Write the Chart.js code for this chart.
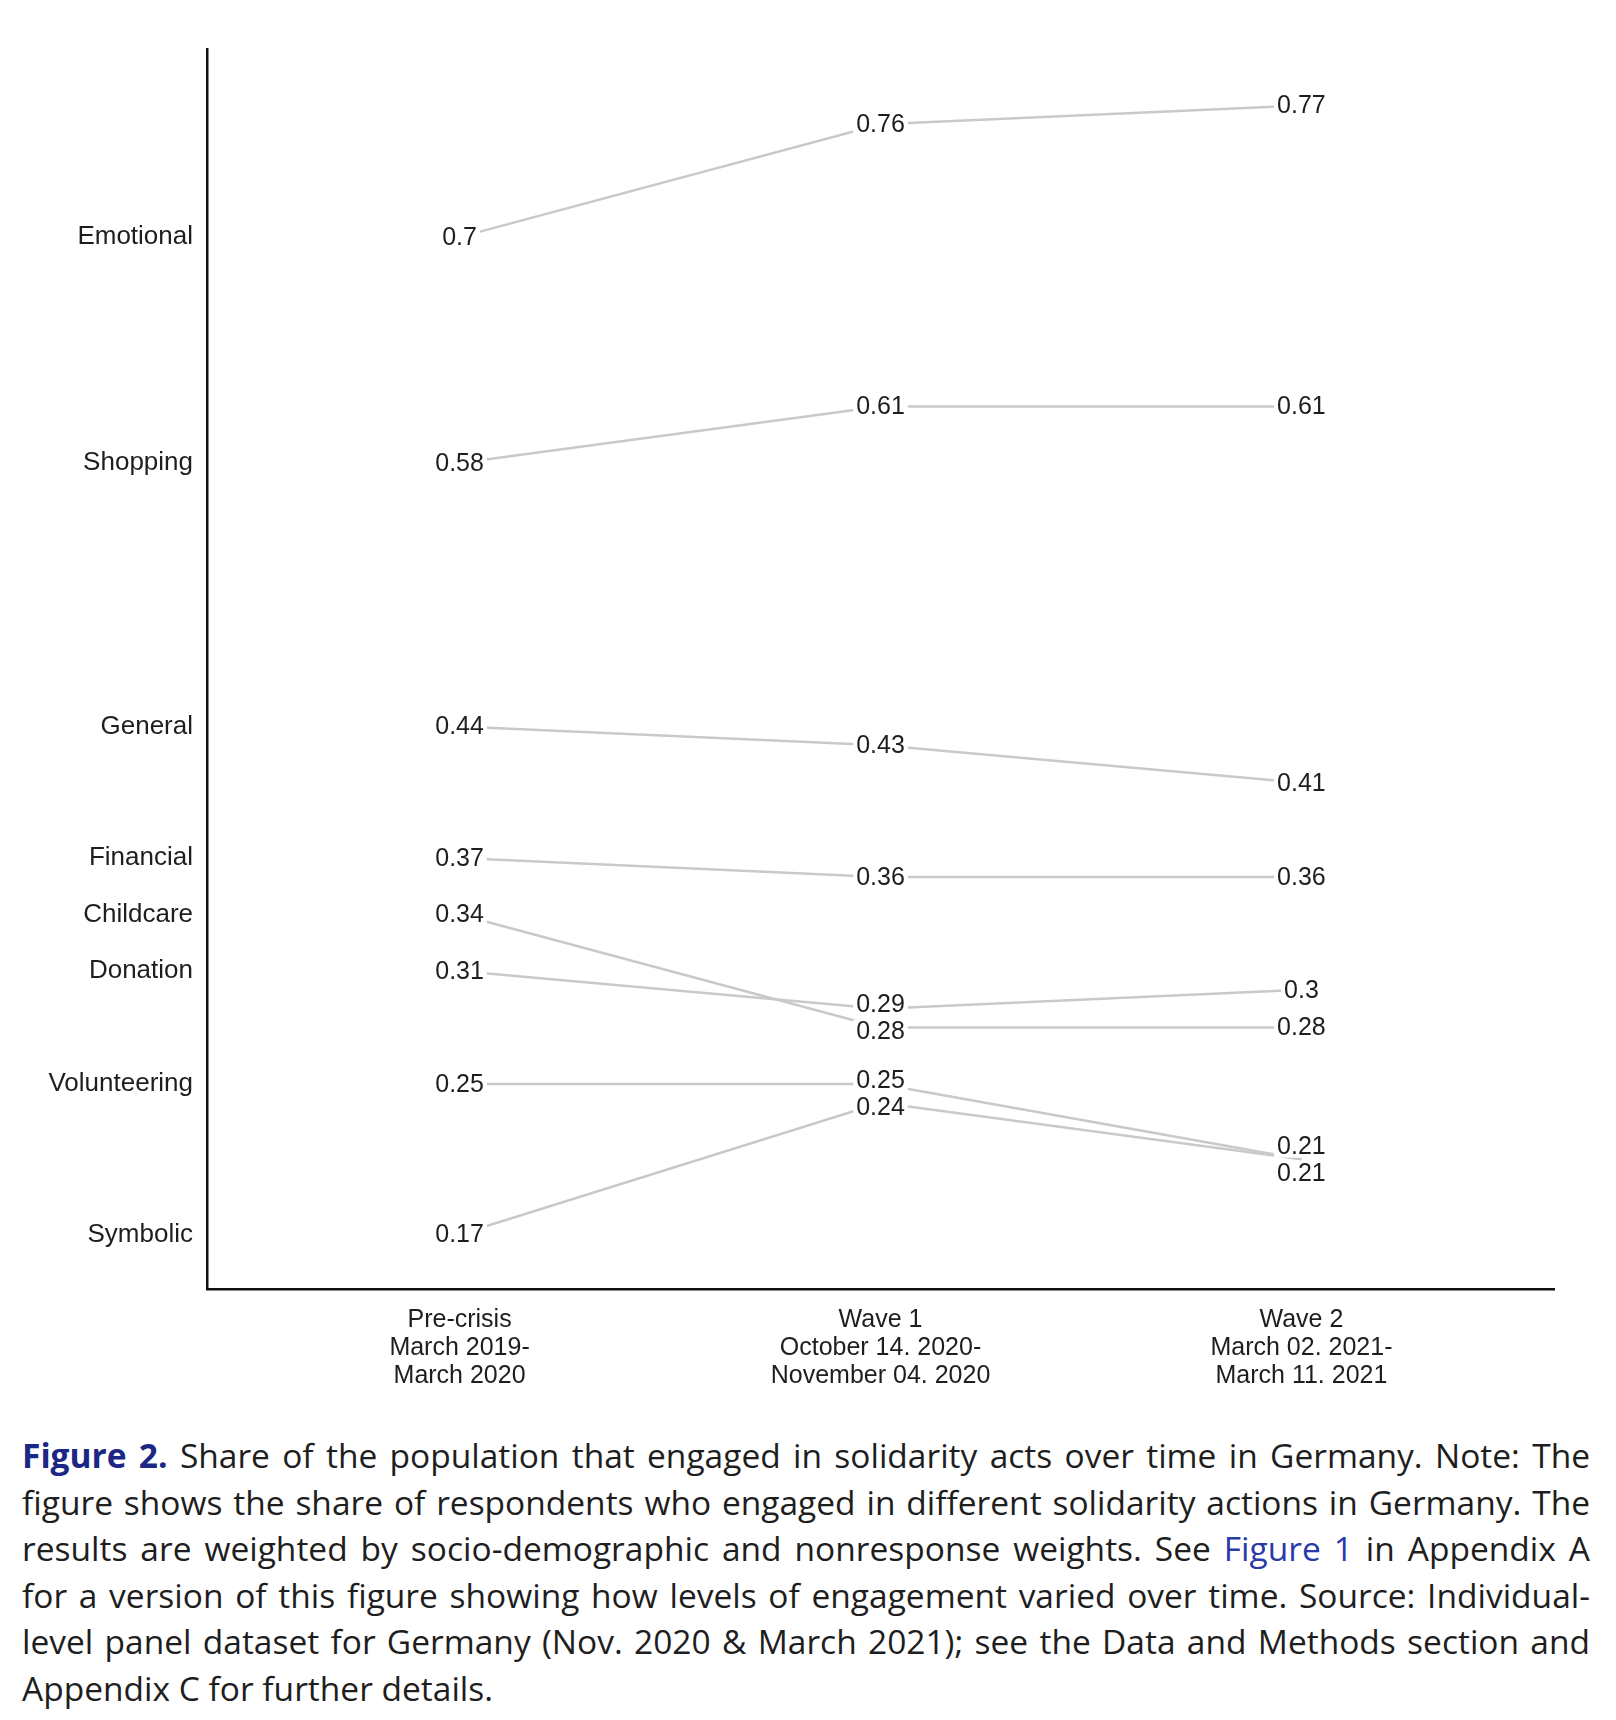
<!DOCTYPE html>
<html>
<head>
<meta charset="utf-8">
<script src="https://cdn.jsdelivr.net/npm/chart.js@4.4.1/dist/chart.umd.min.js"></script>
<style>
  html, body { margin: 0; padding: 0; background: #fff; }
  #wrap { position: relative; width: 1616px; height: 1720px; }
  #chart { position: absolute; left: 0; top: 0; }
  #caption {
    position: absolute; left: 22px; top: 1432px; width: 1568px;
    font-family: "Open Sans", sans-serif; font-size: 33.5px; line-height: 46.5px;
    color: #1e1e1e;
  }
  #caption div { text-align: justify; text-align-last: justify; white-space: nowrap; }
  #caption div.last { text-align-last: left; }
  #caption .fig { color: #1c2785; font-weight: bold; }
  #caption .link { color: #2a3aa8; }
</style>
</head>
<body>
<div id="wrap">
  <canvas id="chart" width="1616" height="1400"></canvas>
  <div id="caption">
    <div><span class="fig">Figure 2.</span> Share of the population that engaged in solidarity acts over time in Germany. Note: The</div>
    <div>figure shows the share of respondents who engaged in different solidarity actions in Germany. The</div>
    <div>results are weighted by socio-demographic and nonresponse weights. See <span class="link">Figure 1</span> in Appendix A</div>
    <div>for a version of this figure showing how levels of engagement varied over time. Source: Individual-</div>
    <div>level panel dataset for Germany (Nov. 2020 &amp; March 2021); see the Data and Methods section and</div>
    <div class="last">Appendix C for further details.</div>
  </div>
</div>
<script>
// Solidarity acts in Germany - slopegraph

const categories = ['Emotional', 'Shopping', 'General', 'Financial', 'Childcare', 'Donation', 'Volunteering', 'Symbolic'];
const preCrisis = [0.7, 0.58, 0.44, 0.37, 0.34, 0.31, 0.25, 0.17];
const wave1 = [0.76, 0.61, 0.43, 0.36, 0.28, 0.29, 0.25, 0.24];
const wave2 = [0.77, 0.61, 0.41, 0.36, 0.28, 0.3, 0.21, 0.21];
const periods = [
    ['Pre-crisis', 'March 2019-', 'March 2020'],
    ['Wave 1', 'October 14. 2020-', 'November 04. 2020'],
    ['Wave 2', 'March 02. 2021-', 'March 11. 2021'],
];

const FONT = '"Liberation Sans", Arial, sans-serif';
const TEXT = '#1e1e1e';

const datasets = categories.map((name, i) => ({
    label: name,
    data: [preCrisis[i], wave1[i], wave2[i]].map((v, j) => ({ x: j, y: v })),
    borderColor: '#c9c9c9',
    borderWidth: 2.5,
    pointRadius: 0,
    tension: 0,
}));

/**
 * Dibuja las etiquetas de valor con fondo blanco, separándolas si chocan
 */
const valueLabels = {
    id: 'valueLabels',
    afterDatasetsDraw(chart) {
        const ctx = chart.ctx;
        ctx.save();
        ctx.font = '25px ' + FONT;
        ctx.textAlign = 'center';
        ctx.textBaseline = 'middle';
        const minGap = 27;

        for (let j = 0; j < 3; j++) {
            const items = chart.data.datasets.map((ds, i) => {
                const pt = chart.getDatasetMeta(i).data[j];
                return { i, text: String(ds.data[j].y), x: pt.x, y: pt.y };
            });
            items.sort((a, b) => a.y - b.y || a.i - b.i);
            // separar etiquetas demasiado cercanas
            for (let k = 1; k < items.length; k++) {
                if (items[k].y - items[k - 1].y < minGap) {
                    const mid = (items[k].y + items[k - 1].y) / 2;
                    items[k - 1].y = mid - minGap / 2;
                    items[k].y = mid + minGap / 2;
                }
            }
            items.forEach(it => {
                const w = ctx.measureText(it.text).width;
                ctx.fillStyle = '#fff';
                ctx.fillRect(it.x - w / 2 - 3, it.y - 12, w + 6, 24);
                ctx.fillStyle = TEXT;
                ctx.fillText(it.text, it.x, it.y + 1);
            });
        }
        ctx.restore();
    },
};

new Chart(document.getElementById('chart'), {
    type: 'line',
    data: { datasets },
    options: {
        responsive: false,
        animation: false,
        layout: { padding: { top: 49, right: 62, left: 0, bottom: 0 } },
        plugins: {
            legend: { display: false },
            tooltip: { enabled: false },
        },
        scales: {
            x: {
                type: 'linear',
                min: -0.6,
                max: 2.6,
                afterBuildTicks: scale => { scale.ticks = [0, 1, 2].map(v => ({ value: v })); },
                afterFit: scale => { scale.height = 111; },
                grid: { display: false, drawTicks: false },
                border: { display: true, color: '#111', width: 2.5 },
                ticks: {
                    autoSkip: false,
                    maxRotation: 0,
                    padding: 17,
                    color: TEXT,
                    font: { family: FONT, size: 25, lineHeight: 1.12 },
                    callback: value => periods[value],
                },
            },
            y: {
                type: 'linear',
                min: 0.141,
                max: 0.8,
                afterBuildTicks: scale => { scale.ticks = preCrisis.map(v => ({ value: v })); },
                afterFit: scale => { scale.width = 207; },
                grid: { display: false, drawTicks: false },
                border: { display: true, color: '#111', width: 2.5 },
                ticks: {
                    autoSkip: false,
                    padding: 14,
                    color: TEXT,
                    font: { family: FONT, size: 26 },
                    callback: (value, index) => categories[index],
                },
            },
        },
    },
    plugins: [valueLabels],
});
</script>
</body>
</html>
